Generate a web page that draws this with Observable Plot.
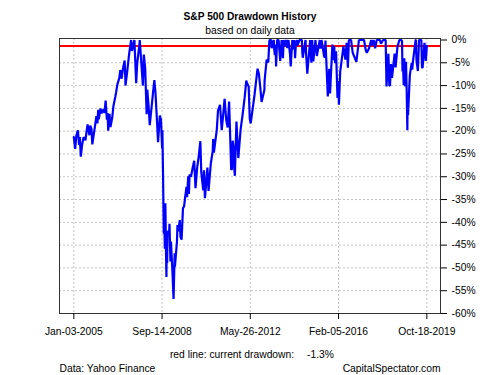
<!DOCTYPE html>
<html>
<head>
<meta charset="utf-8">
<script src="https://cdn.jsdelivr.net/npm/d3@7"></script>
<script src="https://cdn.jsdelivr.net/npm/@observablehq/plot@0.6"></script>
<style>
  html, body { margin: 0; padding: 0; background: #fff; }
</style>
</head>
<body>
<div id="chart"></div>
<script>
// ---- Text ----
const titleText = "S&P 500 Drawdown History";
const subtitleText = "based on daily data";
const captionLeft = "Data: Yahoo Finance";
const captionRight = "CapitalSpectator.com";
const currentLabel = "red line: current drawdown:";

// S&P 500 drawdown from running peak, in percent
const drawdownSeries = [
  ["2005-01-03", -21.3], ["2005-01-24", -23.9], ["2005-02-10", -21.0], ["2005-03-07", -19.8],
  ["2005-03-24", -23.0], ["2005-04-05", -21.3], ["2005-04-20", -25.6], ["2005-05-10", -23.0],
  ["2005-06-01", -21.3], ["2005-06-30", -22.0], ["2005-07-20", -19.8], ["2005-08-02", -18.5],
  ["2005-08-30", -20.9], ["2005-09-12", -18.8], ["2005-09-30", -19.5], ["2005-10-13", -22.9],
  ["2005-11-30", -18.2], ["2005-12-14", -16.7], ["2005-12-30", -18.3], ["2006-01-11", -15.3],
  ["2006-01-20", -17.4], ["2006-02-15", -15.0], ["2006-02-28", -16.1], ["2006-03-31", -15.2],
  ["2006-04-17", -16.0], ["2006-05-05", -13.3], ["2006-05-24", -17.5], ["2006-06-05", -16.0],
  ["2006-06-13", -19.9], ["2006-07-03", -16.2], ["2006-07-18", -19.1], ["2006-08-14", -17.0],
  ["2006-08-31", -14.6], ["2006-09-29", -12.5], ["2006-10-12", -11.5], ["2006-10-31", -9.8],
  ["2006-11-30", -8.3], ["2006-12-15", -6.6], ["2006-12-29", -7.2], ["2007-01-03", -8.5],
  ["2007-01-31", -5.8], ["2007-02-20", -4.5], ["2007-03-05", -10.0], ["2007-03-30", -7.0],
  ["2007-04-30", -3.0], ["2007-05-30", 0.0], ["2007-06-12", -2.4], ["2007-07-19", 0.0],
  ["2007-08-15", -9.5], ["2007-08-31", -5.1], ["2007-09-28", -1.7], ["2007-10-09", 0.0],
  ["2007-11-26", -10.0], ["2007-12-10", -3.2], ["2007-12-31", -6.2], ["2008-01-22", -16.3],
  ["2008-02-01", -10.9], ["2008-02-21", -14.5], ["2008-03-10", -18.7], ["2008-04-30", -11.4],
  ["2008-05-19", -8.8], ["2008-06-05", -11.5], ["2008-06-30", -18.2], ["2008-07-15", -22.4],
  ["2008-08-11", -16.6], ["2008-08-29", -17.5], ["2008-09-15", -23.8], ["2008-09-19", -19.8],
  ["2008-09-29", -29.3], ["2008-10-10", -42.5], ["2008-10-13", -35.9], ["2008-10-27", -45.8],
  ["2008-11-04", -35.8], ["2008-11-12", -45.5], ["2008-11-20", -52.0], ["2008-11-24", -44.0],
  ["2008-12-01", -49.0], ["2008-12-08", -41.9], ["2008-12-31", -42.3], ["2009-01-06", -40.3],
  ["2009-01-20", -48.6], ["2009-01-28", -44.2], ["2009-02-20", -50.8], ["2009-03-09", -56.8],
  ["2009-03-26", -46.8], ["2009-03-30", -49.7], ["2009-04-30", -44.2], ["2009-05-08", -40.6],
  ["2009-05-19", -42.0], ["2009-06-12", -39.5], ["2009-06-23", -43.2], ["2009-07-10", -43.8],
  ["2009-07-31", -36.9], ["2009-08-17", -36.5], ["2009-08-31", -34.8], ["2009-09-23", -32.2],
  ["2009-10-02", -34.5], ["2009-10-19", -29.9], ["2009-10-30", -33.8], ["2009-11-09", -29.5],
  ["2009-11-30", -30.0], ["2009-12-28", -27.9], ["2010-01-19", -26.5], ["2010-02-08", -32.5],
  ["2010-03-05", -28.0], ["2010-03-31", -25.3], ["2010-04-23", -22.2], ["2010-05-07", -29.0],
  ["2010-05-25", -31.4], ["2010-06-07", -33.0], ["2010-06-18", -28.6], ["2010-06-29", -33.5],
  ["2010-07-02", -34.7], ["2010-08-09", -28.0], ["2010-08-26", -33.1], ["2010-09-30", -27.1],
  ["2010-10-29", -24.4], ["2010-11-05", -21.7], ["2010-11-16", -24.7], ["2010-12-31", -19.6],
  ["2011-01-18", -15.5], ["2011-02-18", -14.2], ["2011-03-16", -19.8], ["2011-04-29", -12.9],
  ["2011-05-23", -17.5], ["2011-06-15", -19.2], ["2011-07-07", -13.5], ["2011-08-08", -28.5],
  ["2011-08-19", -28.3], ["2011-08-31", -22.1], ["2011-09-16", -23.9], ["2011-09-22", -27.8],
  ["2011-10-03", -29.8], ["2011-10-27", -17.9], ["2011-11-25", -25.9], ["2011-12-30", -19.6],
  ["2012-01-31", -16.2], ["2012-02-29", -12.7], ["2012-03-26", -8.9], ["2012-04-02", -9.3],
  ["2012-05-01", -10.2], ["2012-05-18", -17.3], ["2012-06-01", -18.3], ["2012-07-31", -11.9],
  ["2012-09-14", -6.3], ["2012-10-05", -7.4], ["2012-10-23", -10.0], ["2012-11-15", -13.6],
  ["2012-12-28", -10.9], ["2012-12-31", -8.9], ["2013-01-31", -4.3], ["2013-02-25", -4.9],
  ["2013-03-14", -0.1], ["2013-03-28", 0.0], ["2013-04-11", 0.0], ["2013-04-18", -1.8],
  ["2013-05-21", 0.0], ["2013-05-24", -1.5], ["2013-06-05", -3.3], ["2013-06-18", -1.0],
  ["2013-06-24", -5.8], ["2013-07-11", 0.0], ["2013-08-02", 0.0], ["2013-08-27", -4.6],
  ["2013-09-09", -1.6], ["2013-09-18", 0.0], ["2013-10-08", -4.0], ["2013-10-18", 0.0],
  ["2013-11-07", -1.4], ["2013-11-27", 0.0], ["2013-12-13", -1.8], ["2013-12-31", 0.0],
  ["2014-01-24", -3.2], ["2014-02-03", -5.8], ["2014-02-28", 0.0], ["2014-03-14", -2.0],
  ["2014-03-27", -1.6], ["2014-04-02", 0.0], ["2014-04-11", -4.0], ["2014-04-21", -1.5],
  ["2014-05-13", 0.0], ["2014-05-15", -1.2], ["2014-06-20", 0.0], ["2014-07-24", 0.0],
  ["2014-07-31", -2.7], ["2014-08-07", -3.9], ["2014-09-18", 0.0], ["2014-09-25", -2.4],
  ["2014-10-15", -7.4], ["2014-11-28", 0.0], ["2014-12-16", -5.0], ["2014-12-29", 0.0],
  ["2015-01-15", -4.7], ["2015-02-17", 0.0], ["2015-03-10", -3.5], ["2015-04-24", 0.0],
  ["2015-05-06", -1.9], ["2015-05-21", 0.0], ["2015-06-29", -3.5], ["2015-07-08", -3.9],
  ["2015-07-20", -0.1], ["2015-08-25", -12.4], ["2015-09-16", -6.3], ["2015-09-28", -11.7],
  ["2015-11-03", -1.0], ["2015-11-13", -4.4], ["2015-12-01", -1.4], ["2015-12-14", -5.1],
  ["2015-12-29", -2.5], ["2016-01-20", -12.7], ["2016-02-01", -9.0], ["2016-02-11", -14.2],
  ["2016-03-01", -7.0], ["2016-04-20", -1.4], ["2016-05-19", -4.3], ["2016-06-08", -0.6],
  ["2016-06-27", -6.1], ["2016-07-12", 0.0], ["2016-08-15", 0.0], ["2016-09-09", -2.8],
  ["2016-11-04", -4.8], ["2016-12-13", 0.0], ["2017-01-27", 0.0], ["2017-03-01", 0.0],
  ["2017-03-27", -2.2], ["2017-04-13", -2.8], ["2017-05-17", -1.8], ["2017-06-19", 0.0],
  ["2017-06-29", -1.2], ["2017-07-27", 0.0], ["2017-08-18", -1.8], ["2017-09-11", 0.0],
  ["2017-10-31", 0.0], ["2017-11-15", -0.8], ["2017-12-18", 0.0], ["2018-01-26", 0.0],
  ["2018-02-08", -10.2], ["2018-03-09", -3.0], ["2018-03-23", -9.9], ["2018-04-02", -10.1],
  ["2018-04-18", -5.3], ["2018-05-03", -8.3], ["2018-06-12", -3.0], ["2018-06-27", -6.0],
  ["2018-07-25", -1.5], ["2018-08-24", 0.0], ["2018-09-20", 0.0], ["2018-10-03", -0.2],
  ["2018-10-11", -6.9], ["2018-10-17", -4.5], ["2018-10-29", -9.9], ["2018-11-07", -4.0],
  ["2018-11-23", -10.2], ["2018-12-03", -4.8], ["2018-12-14", -11.3], ["2018-12-24", -19.8],
  ["2018-12-26", -15.8], ["2019-01-03", -16.5], ["2019-01-31", -7.7], ["2019-02-28", -5.0],
  ["2019-03-08", -6.5], ["2019-03-22", -4.4], ["2019-04-30", 0.0], ["2019-05-03", 0.0],
  ["2019-05-13", -4.5], ["2019-06-03", -6.8], ["2019-06-20", 0.0], ["2019-07-26", 0.0],
  ["2019-08-05", -6.0], ["2019-08-14", -6.1], ["2019-09-12", -0.6], ["2019-10-02", -4.6],
  ["2019-10-18", -1.3]
];

const xTickDates = ["2005-01-03", "2008-09-14", "2012-05-26", "2016-02-05", "2019-10-18"];
const yTickValues = [0, -5, -10, -15, -20, -25, -30, -35, -40, -45, -50, -55, -60];
const yGridValues = [-5, -10, -15, -20, -25, -30, -35, -40, -45, -50, -55];

// ---- Build ----
const data = drawdownSeries
  .map(([d, v]) => ({date: new Date(d), dd: v}))
  .sort((a, b) => a.date - b.date);
const xTicks = xTickDates.map(d => new Date(d));
const current = data[data.length - 1].dd;
const currentText = `${current.toFixed(1)}%`;
const fmtDate = d3.utcFormat("%b-%d-%Y");

const gridStyle = {stroke: "#c4c4c4", strokeOpacity: 1, strokeDasharray: "2,2"};

const chart = Plot.plot({
  width: 500,
  height: 375,
  marginLeft: 59,
  marginRight: 60,
  marginTop: 38,
  marginBottom: 62,
  style: {fontFamily: "'Liberation Sans', Arial, sans-serif", fontSize: "10.3px", color: "#000", background: "#fff"},
  x: {type: "utc", domain: [new Date("2004-05-29"), new Date("2020-05-14")]},
  y: {domain: [-60, 0.33]},
  marks: [
    Plot.gridY(yGridValues, gridStyle),
    Plot.gridX(xTicks, gridStyle),
    Plot.ruleY([current], {stroke: "#ff0000", strokeWidth: 2}),
    Plot.lineY(data, {x: "date", y: "dd", stroke: "#0000ff", strokeWidth: 2.2, strokeLinejoin: "miter"}),
    Plot.frame({stroke: "#333"}),
    Plot.axisY(yTickValues, {anchor: "right", tickSize: 6, tickPadding: 5, tickFormat: d => `${d}%`, label: null}),
    Plot.axisX(xTicks, {anchor: "bottom", tickSize: 6, tickPadding: 8, tickFormat: fmtDate, label: null}),
    Plot.text([titleText], {text: d => d, frameAnchor: "top", lineAnchor: "bottom", dy: -19, fontWeight: "bold", fontSize: 10.2}),
    Plot.text([subtitleText], {text: d => d, frameAnchor: "top", lineAnchor: "bottom", dy: -5}),
    Plot.text([currentLabel], {text: d => d, frameAnchor: "bottom", lineAnchor: "bottom", dx: -18, dy: 44}),
    Plot.text([currentText], {text: d => d, frameAnchor: "bottom", lineAnchor: "bottom", textAnchor: "start", dx: 57, dy: 44}),
    Plot.text([captionLeft], {text: d => d, frameAnchor: "bottom-left", lineAnchor: "bottom", textAnchor: "start", dy: 58}),
    Plot.text([captionRight], {text: d => d, frameAnchor: "bottom-right", lineAnchor: "bottom", textAnchor: "end", dy: 58})
  ]
});
document.getElementById("chart").appendChild(chart);
</script>
</body>
</html>
